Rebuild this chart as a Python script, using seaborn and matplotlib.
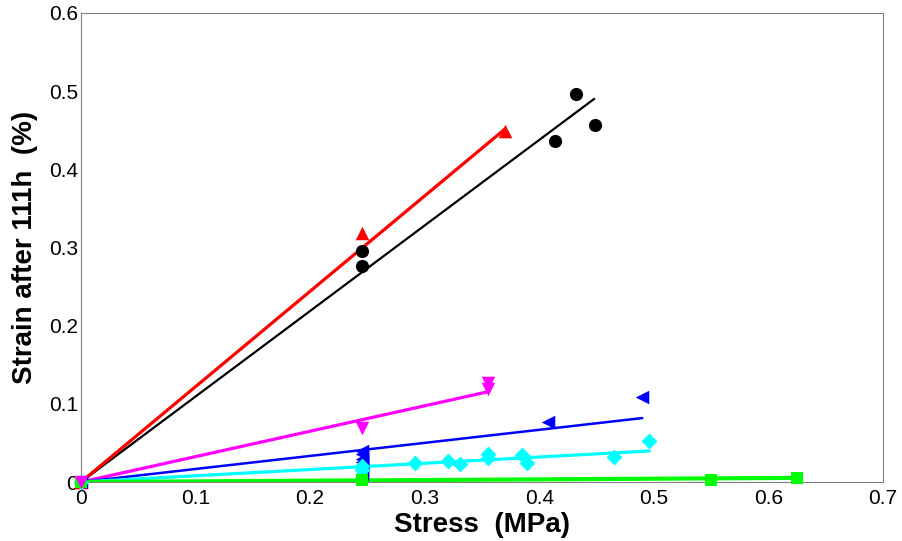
import numpy as np
import pandas as pd
import matplotlib
matplotlib.use("Agg")
import matplotlib.pyplot as plt
import seaborn as sns

# Measured points (stress in MPa, strain in %)
black_x = [0, 0.245, 0.245, 0.414, 0.432, 0.449]
black_y = [0, 0.296, 0.276, 0.436, 0.496, 0.457]

red_x = [0, 0.245, 0.370]
red_y = [0, 0.318, 0.449]

magenta_x = [0, 0.245, 0.355, 0.355]
magenta_y = [0, 0.069, 0.127, 0.119]

blue_x = [0, 0.245, 0.245, 0.245, 0.245, 0.245, 0.245, 0.245, 0.408, 0.490]
blue_y = [0, 0.040, 0.036, 0.030, 0.025, 0.020, 0.015, 0.010, 0.077, 0.109]

cyan_x = [0, 0.245, 0.245, 0.292, 0.320, 0.331, 0.355, 0.355, 0.385, 0.389, 0.465, 0.496]
cyan_y = [0, 0.020, 0.015, 0.024, 0.027, 0.023, 0.036, 0.031, 0.034, 0.024, 0.032, 0.053]

green_x = [0, 0.245, 0.550, 0.625]
green_y = [0, 0.002, 0.003, 0.005]

# Linear fits through origin: slope and end stress
fit_slope = [1.094, 1.220, 0.325, 0.167, 0.080, 0.0085]
fit_end = [0.448, 0.370, 0.355, 0.490, 0.496, 0.625]

# drawn so that magenta ends up on top, as in the original
series = [
    ("black", black_x, black_y, "o", "black", 1.6, 90, 3),
    ("red", red_x, red_y, "^", "#ff0000", 2.3, 95, 3),
    ("magenta", magenta_x, magenta_y, "v", "#ff00ff", 2.3, 95, 5),
    ("blue", blue_x, blue_y, "<", "#0000ff", 1.8, 95, 3),
    ("cyan", cyan_x, cyan_y, "D", "#00ffff", 2.3, 65, 3),
    ("green", green_x, green_y, "s", "#00ff00", 3.0, 70, 3),
]

sns.set_style("white")
plt.rcParams["font.family"] = ["Liberation Sans", "DejaVu Sans"]
plt.rcParams["text.color"] = "black"
plt.rcParams["axes.labelcolor"] = "black"

fig = plt.figure(figsize=(9.02, 5.41), dpi=100)
ax = fig.add_axes([0.0898, 0.109, 0.889, 0.867])

for i, (name, xs, ys, mk, col, lw, ms, z) in enumerate(series):
    fit = pd.DataFrame({"x": [0, fit_end[i]], "y": [0, fit_slope[i] * fit_end[i]]})
    sns.lineplot(data=fit, x="x", y="y", color=col, linewidth=lw, ax=ax, zorder=2)
    pts = pd.DataFrame({"x": xs, "y": ys})
    sns.scatterplot(data=pts, x="x", y="y", marker=mk, color=col, s=ms,
                    edgecolor=col, linewidth=0, ax=ax, zorder=z, clip_on=False)

ax.set_xlim(0, 0.7)
ax.set_ylim(0, 0.6)
ax.set_xticks(np.arange(0, 0.71, 0.1))
ax.set_yticks(np.arange(0, 0.61, 0.1))
ax.set_xticklabels(["0", "0.1", "0.2", "0.3", "0.4", "0.5", "0.6", "0.7"])
ax.set_yticklabels(["0", "0.1", "0.2", "0.3", "0.4", "0.5", "0.6"])
ax.tick_params(direction="in", length=5, width=0.8, color="#808080",
               labelcolor="black", labelsize=15)
ax.tick_params(axis="x", pad=5)
ax.tick_params(axis="y", pad=2)
for s in ax.spines.values():
    s.set_color("#808080")
    s.set_linewidth(0.8)

ax.set_xlabel("Stress  (MPa)", fontsize=20, fontweight="bold", labelpad=3, color="black")
ax.set_ylabel("Strain after 111h  (%)", fontsize=20, fontweight="bold", labelpad=8, color="black")

fig.savefig("out.png", dpi=100)
